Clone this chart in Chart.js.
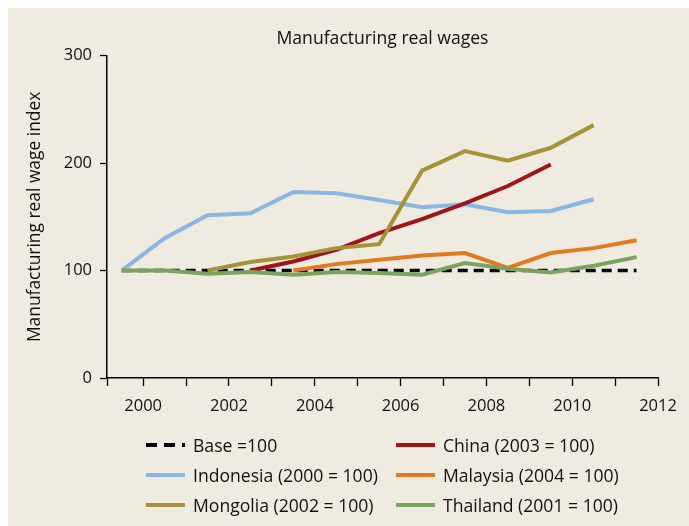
<!DOCTYPE html>
<html>
<head>
<meta charset="utf-8">
<script src="https://cdn.jsdelivr.net/npm/chart.js@4"></script>
<style>
  body { margin: 0; background: #ffffff; }
  #wrap { position: relative; width: 689px; height: 526px; }
  #panel { position: absolute; left: 8px; top: 8px; right: 0; bottom: 0; background: #efebe1; }
  #myChart { position: absolute; left: 0; top: 0; }
  #legend { position: absolute; left: 0; top: 0; width: 689px; height: 526px; pointer-events: none;
            font-family: "Open Sans", sans-serif; font-size: 17.6px; color: #111; }
  .item { position: absolute; display: flex; align-items: center; height: 30px; }
  .swatch { width: 39px; height: 4px; margin-right: 8px; }
</style>
</head>
<body>
<div id="wrap">
  <div id="panel"></div>
  <canvas id="myChart" width="689" height="526"></canvas>
  <div id="legend"></div>
</div>
<script>
// years of the data points
const years = [2000, 2001, 2002, 2003, 2004, 2005, 2006, 2007, 2008, 2009, 2010, 2011, 2012];
const tickLabels = ['2000', '2002', '2004', '2006', '2008', '2010', '2012'];

// index values (null = no data)
const base      = [100, 100, 100, 100, 100, 100, 100, 100, 100, 100, 100, 100, 100];
const china     = [null, null, null, 100, 108.4, 119.3, 134.8, 147.8, 162.6, 178.7, 198.8, null, null];
const indonesia = [100, 130.2, 151.5, 153.4, 173.2, 172, 165.7, 159, 161.7, 154.3, 155.5, 166.4, null];
const malaysia  = [null, null, null, null, 100, 106, 110, 114, 116.3, 102.6, 116.3, 120.9, 128.2];
const mongolia  = [null, null, 100, 107.9, 113.1, 120.9, 124.6, 193, 211.2, 202.2, 214.3, 235.4, null];
const thailand  = [100, 100, 97, 98.6, 96.1, 98.6, 97.7, 96.1, 107, 101.7, 98.3, 104.5, 112.5];

function pts(arr) {
  return years.map((y, i) => ({ x: y, y: arr[i] }));
}

const series = [
  { label: 'Base =100',             color: '#000000', data: base,      dash: [10, 6], width: 3.5, order: 6 },
  { label: 'China (2003 = 100)',    color: '#9e1519', data: china,     width: 4, order: 2 },
  { label: 'Indonesia (2000 = 100)', color: '#8ab6e3', data: indonesia, width: 4, order: 5 },
  { label: 'Malaysia (2004 = 100)', color: '#e07b1f', data: malaysia,  width: 4, order: 3 },
  { label: 'Mongolia (2002 = 100)', color: '#a4933a', data: mongolia,  width: 4, order: 1 },
  { label: 'Thailand (2001 = 100)', color: '#7ba35e', data: thailand,  width: 4, order: 0 }
];

const FONT = '"Open Sans", sans-serif';

const config = {
  type: 'line',
  data: {
    datasets: series.map(s => ({
      label: s.label,
      data: pts(s.data),
      borderColor: s.color,
      backgroundColor: s.color,
      borderWidth: s.width,
      borderDash: s.dash || [],
      pointRadius: 0,
      tension: 0,
      spanGaps: false,
      order: s.order
    }))
  },
  options: {
    responsive: false,
    animation: false,
    layout: { padding: { left: 0, right: 31, top: 0, bottom: 100 } },
    plugins: {
      legend: { display: false },
      tooltip: { enabled: false },
      title: {
        display: true,
        fullSize: false,
        text: 'Manufacturing real wages',
        color: '#111',
        font: { family: FONT, size: 17.6, weight: 'normal' },
        padding: { top: 28, bottom: 6.6 }
      }
    },
    scales: {
      x: {
        type: 'linear',
        min: 1999.657,
        max: 2012.5,
        grid: { drawOnChartArea: false, color: '#000', tickLength: 8, tickWidth: 1.3 },
        border: { color: '#000', width: 1.5 },
        afterBuildTicks: axis => {
          axis.ticks = [{ value: axis.min }].concat(years.map(y => ({ value: y + 0.5 })));
        },
        afterFit: axis => { axis.height = 48; },
        ticks: {
          autoSkip: false,
          maxRotation: 0,
          padding: 10,
          color: '#111',
          font: { family: FONT, size: 16.5 },
          callback: v => {
            const lab = String(Math.round(v - 0.5));
            return (v > 2000 && tickLabels.includes(lab)) ? lab : '';
          }
        }
      },
      y: {
        min: 0,
        max: 300,
        grid: { drawOnChartArea: false, color: '#000', tickLength: 7, tickWidth: 1.3 },
        border: { color: '#000', width: 1.5 },
        afterFit: axis => { axis.width = 107; },
        ticks: {
          stepSize: 100,
          padding: 8,
          color: '#111',
          font: { family: FONT, size: 16.5 }
        },
        title: {
          display: true,
          text: 'Manufacturing real wage index',
          color: '#111',
          font: { family: FONT, size: 17.4 },
          padding: { top: 25, bottom: 0 }
        }
      }
    }
  }
};

const myChart = new Chart(document.getElementById('myChart'), config);

// legend in two columns below the chart
const legend = document.getElementById('legend');
const colX = [146, 396];
const rowY = [430, 460, 490];
series.forEach((s, i) => {
  const item = document.createElement('div');
  item.className = 'item';
  item.style.left = colX[i % 2] + 'px';
  item.style.top = rowY[Math.floor(i / 2)] + 'px';
  const sw = document.createElement('div');
  sw.className = 'swatch';
  if (s.dash) {
    sw.style.background = 'repeating-linear-gradient(to right, ' + s.color + ' 0 11px, transparent 11px 18px)';
  } else {
    sw.style.background = s.color;
  }
  const txt = document.createElement('span');
  txt.textContent = s.label;
  item.appendChild(sw);
  item.appendChild(txt);
  legend.appendChild(item);
});
</script>
</body>
</html>
